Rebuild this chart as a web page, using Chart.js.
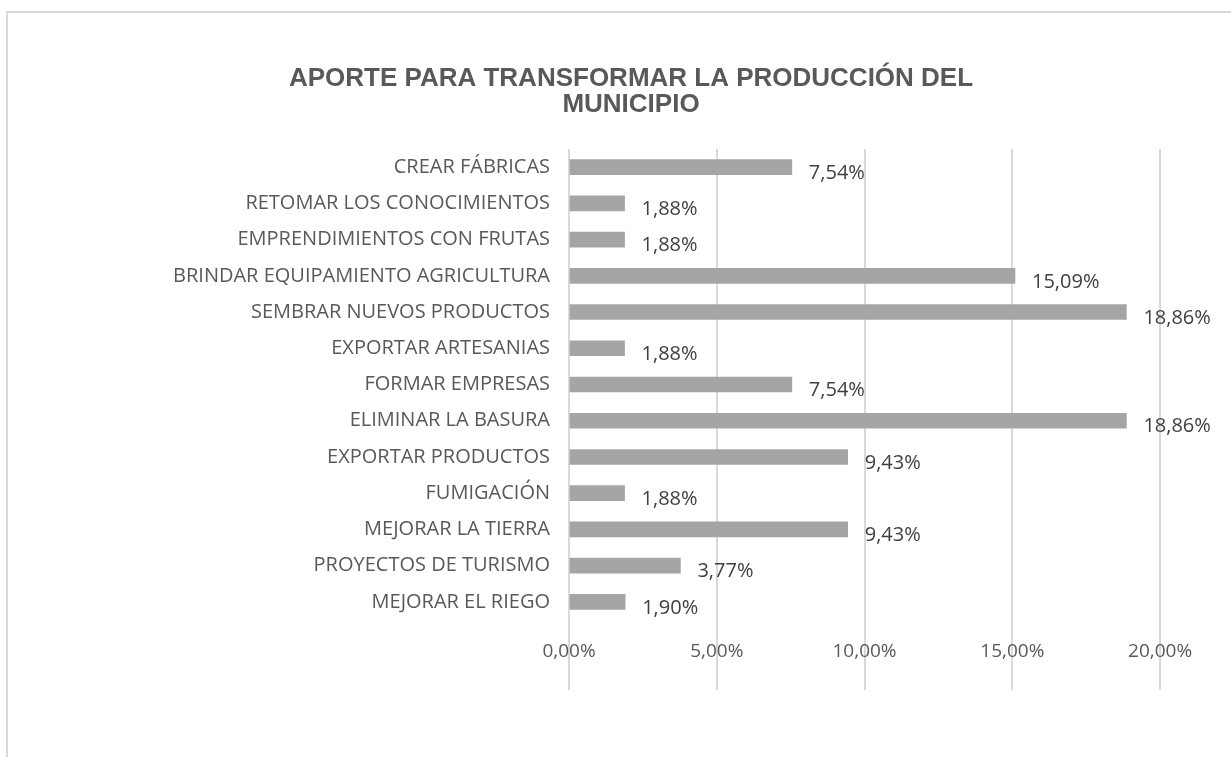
<!DOCTYPE html>
<html>
<head>
<meta charset="utf-8">
<script src="https://cdn.jsdelivr.net/npm/chart.js@4.4.1/dist/chart.umd.min.js"></script>
<style>
  html, body { margin: 0; padding: 0; background: #fff; }
  #wrap { position: relative; width: 1231px; height: 757px; }
  #frame { position: absolute; left: 6px; top: 11px; right: 0; bottom: 0;
           border-left: 2px solid #d9d9d9; border-top: 2px solid #d9d9d9; pointer-events: none; }
</style>
</head>
<body>
<div id="wrap">
  <canvas id="myChart" width="1231" height="757"></canvas>
  <div id="frame"></div>
</div>
<script>
// setup
const categories = [
  'CREAR FÁBRICAS',
  'RETOMAR LOS CONOCIMIENTOS',
  'EMPRENDIMIENTOS CON FRUTAS',
  'BRINDAR EQUIPAMIENTO AGRICULTURA',
  'SEMBRAR NUEVOS PRODUCTOS',
  'EXPORTAR ARTESANIAS',
  'FORMAR EMPRESAS',
  'ELIMINAR LA BASURA',
  'EXPORTAR PRODUCTOS',
  'FUMIGACIÓN',
  'MEJORAR LA TIERRA',
  'PROYECTOS DE TURISMO',
  'MEJORAR EL RIEGO'
];
const values = [7.54, 1.88, 1.88, 15.09, 18.86, 1.88, 7.54, 18.86, 9.43, 1.88, 9.43, 3.77, 1.90];
const xTicks = [0, 5, 10, 15, 20];

const pct = v => v.toFixed(2).replace('.', ',') + '%';

// value labels next to each bar
const barLabels = {
  id: 'barLabels',
  afterDatasetsDraw(chart) {
    const ctx = chart.ctx;
    const meta = chart.getDatasetMeta(0);
    ctx.save();
    ctx.font = '20px "Open Sans"';
    ctx.fillStyle = '#404040';
    ctx.textAlign = 'left';
    ctx.textBaseline = 'middle';
    meta.data.forEach((bar, i) => {
      ctx.fillText(pct(values[i]), bar.x + 17, bar.y + 6);
    });
    ctx.restore();
  }
};

const data = {
  labels: categories,
  datasets: [{
    data: values,
    backgroundColor: '#a5a5a5',
    borderWidth: 0,
    barThickness: 15
  }]
};

const config = {
  type: 'bar',
  data,
  plugins: [barLabels],
  options: {
    indexAxis: 'y',
    responsive: false,
    animation: false,
    layout: { padding: { left: 31, right: 0, top: 0, bottom: 0 } },
    plugins: {
      legend: { display: false },
      tooltip: { enabled: false },
      title: {
        display: true,
        text: ['APORTE PARA TRANSFORMAR LA PRODUCCIÓN DEL', 'MUNICIPIO'],
        color: '#595959',
        font: { family: '"Liberation Sans"', size: 26, weight: 'bold', lineHeight: 1.0 },
        padding: { top: 66, bottom: 31 }
      }
    },
    scales: {
      x: {
        min: 0,
        max: 22.4, // empty space right of the 20% line, as in the original
        afterBuildTicks(scale) { scale.ticks = xTicks.map(v => ({ value: v })); },
        afterFit(scale) { scale.height = 137; },
        grid: { color: '#d9d9d9', lineWidth: 2, drawTicks: true, tickLength: 70 },
        border: { display: false },
        ticks: {
          padding: -50,
          color: '#595959',
          font: { family: '"Open Sans"', size: 19 },
          callback: v => pct(v)
        }
      },
      y: {
        afterFit(scale) { scale.width = 538; },
        grid: { display: false, drawTicks: false },
        border: { display: false },
        ticks: {
          padding: 19,
          color: '#595959',
          font: { family: '"Open Sans"', size: 20 }
        }
      }
    }
  }
};

// render init block
const myChart = new Chart(document.getElementById('myChart'), config);
</script>
</body>
</html>
